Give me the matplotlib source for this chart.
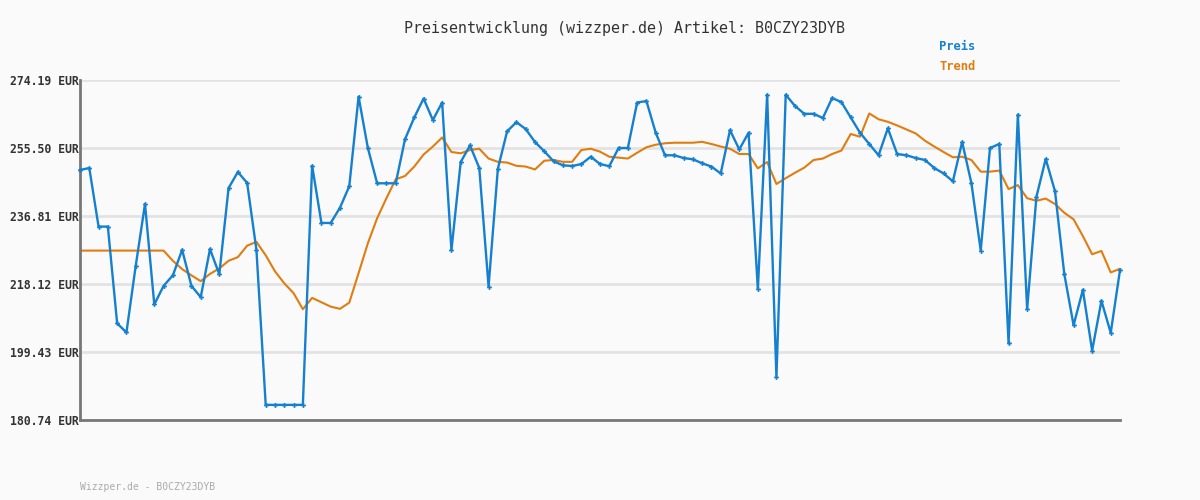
import matplotlib
matplotlib.use("Agg")
import matplotlib.pyplot as plt

title = "Preisentwicklung (wizzper.de) Artikel: B0CZY23DYB"
footer = "Wizzper.de - B0CZY23DYB"
y_ticks = [180.74, 199.43, 218.12, 236.81, 255.50, 274.19]
y_labels = ["180.74 EUR", "199.43 EUR", "218.12 EUR", "236.81 EUR", "255.50 EUR", "274.19 EUR"]

preis = [249.45, 250.0, 233.9, 233.9, 207.3, 204.8, 223.1, 240.1, 212.5, 217.6,
         220.5, 227.5, 217.6, 214.5, 227.7, 220.8, 244.5, 248.9, 245.9, 227.5,
         184.9, 184.9, 184.9, 184.9, 184.9, 250.6, 234.9, 234.9, 239.1, 245.0,
         269.6, 255.5, 245.8, 245.8, 245.8, 257.9, 263.9, 269.1, 263.2, 268.0,
         227.4, 251.65, 256.2, 250.0, 217.4, 249.8, 260.1, 262.6, 260.7, 257.15,
         254.6, 251.85, 250.75, 250.55, 251.1, 253.1, 251.1, 250.5, 255.5, 255.5,
         268.0, 268.4, 259.7, 253.5, 253.5, 252.75, 252.4, 251.3, 250.4, 248.5,
         260.4, 255.1, 259.7, 216.7, 270.15, 192.5, 270.15, 267.05, 264.9, 264.9,
         263.75, 269.25, 268.1, 263.9, 259.7, 256.6, 253.5, 260.9, 253.85, 253.5,
         252.75, 252.2, 250.0, 248.5, 246.35, 257.15, 245.8, 227.3, 255.5, 256.6,
         201.8, 264.65, 211.2, 242.1, 252.5, 243.6, 220.9, 206.8, 216.5, 199.8,
         213.5, 204.7, 221.97]

trend = [227.3, 227.3, 227.3, 227.3, 227.3, 227.3, 227.3, 227.3, 227.3, 227.3,
         224.5, 222.2, 220.5, 218.9, 220.9, 222.4, 224.5, 225.5, 228.65, 229.7,
         226.0, 221.6, 218.3, 215.6, 211.2, 214.3, 213.1, 211.9, 211.3, 213.0,
         221.1, 229.3, 236.2, 241.7, 246.9, 247.8, 250.4, 253.7, 255.9, 258.4,
         254.4, 254.05, 254.95, 255.3, 252.6, 251.7, 251.5, 250.6, 250.4, 249.6,
         252.0, 252.2, 251.7, 251.7, 254.95, 255.3, 254.5, 253.1, 252.85, 252.6,
         254.2, 255.7, 256.4, 256.8, 256.95, 256.95, 256.95, 257.2, 256.6, 255.9,
         255.3, 253.85, 253.85, 249.9, 251.65, 245.6, 247.2, 248.7, 250.1, 252.2,
         252.6, 253.85, 254.8, 259.35, 258.6, 265.0, 263.4, 262.7, 261.7, 260.6,
         259.5, 257.5, 255.9, 254.4, 252.95, 253.1, 252.2, 249.0, 249.0, 249.3,
         244.2, 245.3, 241.7, 241.0, 241.6, 240.1, 237.7, 235.9, 231.3, 226.3,
         227.2, 221.3, 222.3]

blue = "#1580cf"
orange = "#e07d10"
bg = "#fafafa"

fig = plt.figure(figsize=(12, 5), dpi=100, facecolor=bg)
ax = fig.add_axes([80 / 1200, 80 / 500, 1040 / 1200, 340 / 500], facecolor=bg)

x = list(range(len(preis)))
ax.plot(x, trend, color=orange, lw=1.5, zorder=3)
ax.plot(x, preis, color=blue, lw=1.7, marker="P", ms=3.5, mew=0,
        markerfacecolor=blue, zorder=6, clip_on=False)

ax.set_xlim(0, len(preis) - 1)
ax.set_ylim(y_ticks[0], y_ticks[-1])
ax.set_yticks(y_ticks)
ax.set_yticklabels(y_labels, fontfamily="DejaVu Sans Mono", fontweight="bold",
                   fontsize=8.3, color="#333333")
ax.tick_params(axis="y", length=0, pad=1)
ax.set_xticks([])
for v in y_ticks:
    ax.axhline(v, color="#e3e3e3", lw=2, zorder=1)

for s in ["top", "right"]:
    ax.spines[s].set_visible(False)
for s in ["left", "bottom"]:
    ax.spines[s].set_color("#777777")
    ax.spines[s].set_linewidth(2)
    ax.spines[s].set_zorder(5)

fig.text(624 / 1200, 1 - 28 / 500, title, ha="center", va="center",
         fontfamily="DejaVu Sans Mono", fontsize=10.8, color="#333333")
fig.text(939 / 1200, 1 - 47 / 500, "Preis", ha="left", va="center",
         fontfamily="DejaVu Sans Mono", fontweight="bold", fontsize=8.7, color=blue)
fig.text(939 / 1200, 1 - 67 / 500, "Trend", ha="left", va="center",
         fontfamily="DejaVu Sans Mono", fontweight="bold", fontsize=8.7, color=orange)
fig.text(80 / 1200, 1 - 487 / 500, footer, ha="left", va="center",
         fontfamily="DejaVu Sans Mono", fontsize=7, color="#aaaaaa")

fig.savefig("out.png", dpi=100, facecolor=bg)
